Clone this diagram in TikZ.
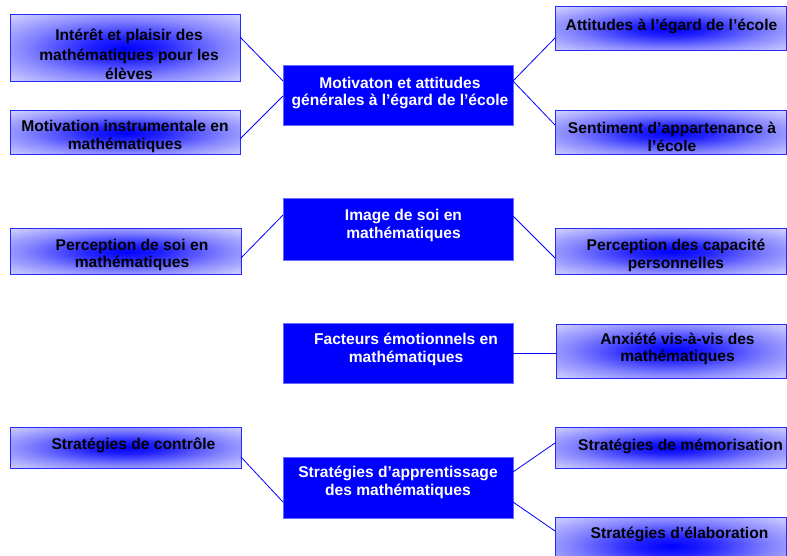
\documentclass[tikz,border=0pt]{standalone}
\usepackage{fontspec}
\setmainfont{Liberation Sans}
\usetikzlibrary{calc}
\definecolor{lav}{RGB}{224,224,255}
\definecolor{edgeblue}{RGB}{40,40,255}
\definecolor{corefill}{RGB}{0,0,255}
\pgfdeclareradialshading{glow}{\pgfpoint{0bp}{0bp}}{color(0bp)=(corefill);color(8bp)=(corefill!85!lav);color(22bp)=(corefill!40!lav);color(38bp)=(lav);color(50bp)=(lav)}
\tikzset{
  sidebox/.style={draw=edgeblue, line width=1pt, shading=glow, inner sep=0pt, outer sep=0pt},
  mainbox/.style={draw=edgeblue!70!white, line width=1pt, fill=corefill, inner sep=0pt, outer sep=0pt},
  sidetext/.style={text=black, align=center, inner sep=0pt, font=\bfseries\fontsize{15.6}{17.5}\selectfont},
  maintext/.style={text=white, align=center, inner sep=0pt, font=\bfseries\fontsize{15.6}{17.5}\selectfont},
  link/.style={draw=corefill, line width=0.8pt}
}
\begin{document}
\begin{tikzpicture}[x=1pt, y=-1pt]
\path[use as bounding box, clip] (0,0) rectangle (787,556);
% left boxes
\node[sidebox, minimum width=230pt, minimum height=67pt] (L1) at (125,48.5) {};
\node[sidebox, minimum width=230pt, minimum height=44pt] (L2) at (125,133) {};
\node[sidebox, minimum width=231pt, minimum height=45pt] (L3) at (125.5,251.5) {};
\node[sidebox, minimum width=231pt, minimum height=41pt] (L4) at (125.5,447.5) {};
% centre boxes
\node[mainbox, minimum width=230pt, minimum height=60pt] (C1) at (398,96) {};
\node[mainbox, minimum width=230pt, minimum height=61pt] (C2) at (398,229.5) {};
\node[mainbox, minimum width=230pt, minimum height=60pt] (C3) at (398,353) {};
\node[mainbox, minimum width=230pt, minimum height=61pt] (C4) at (398,487.5) {};
% right boxes
\node[sidebox, minimum width=231pt, minimum height=44pt] (R1) at (670.5,29) {};
\node[sidebox, minimum width=231pt, minimum height=44pt] (R2) at (670.5,133) {};
\node[sidebox, minimum width=231pt, minimum height=45pt] (R3) at (670.5,251.5) {};
\node[sidebox, minimum width=230pt, minimum height=54pt] (R4) at (671,351) {};
\node[sidebox, minimum width=231pt, minimum height=41pt] (R5) at (670.5,447.5) {};
\node[sidebox, minimum width=231pt, minimum height=58pt] (R6) at (670.5,546) {};
% texts
\node[sidetext, font=\bfseries\fontsize{15.6}{19.5}\selectfont] (tL1) at (129,54.5) {Intérêt et plaisir des\\mathématiques pour les\\élèves};
\node[sidetext] (tL2) at (125,136.5) {Motivation instrumentale en\\mathématiques};
\node[sidetext] (tL3) at (132,255) {Perception de soi en\\mathématiques};
\node[sidetext] (tL4) at (133.5,445) {Stratégies de contrôle};
\node[maintext] (tC1) at (400,93) {Motivaton et attitudes\\générales à l’égard de l’école};
\node[maintext] (tC2) at (403.5,225.5) {Image de soi en\\mathématiques};
\node[maintext] (tC3) at (406,349.5) {Facteurs émotionnels en\\mathématiques};
\node[maintext] (tC4) at (398,482.5) {Stratégies d’apprentissage\\des mathématiques};
\node[sidetext] (tR1) at (671.5,26) {Attitudes à l’égard de l’école};
\node[sidetext] (tR2) at (672,137) {Sentiment d’appartenance à\\l’école};
\node[sidetext] (tR3) at (676,255.5) {Perception des capacité\\personnelles};
\node[sidetext] (tR4) at (677.5,349) {Anxiété vis-à-vis des\\mathématiques};
\node[sidetext] (tR5) at (680.5,446) {Stratégies de mémorisation};
\node[sidetext] (tR6) at (679.5,534) {Stratégies d’élaboration};
% connectors
\draw[link] ([yshift=11.5pt]L1.east) -- ([yshift=15pt]C1.west);
\draw[link] ([yshift=-6pt]L2.east) -- (C1.west);
\draw[link] ([yshift=15pt]C1.east) -- ([yshift=-9pt]R1.west);
\draw[link] ([yshift=15pt]C1.east) -- ([yshift=8pt]R2.west);
\draw[link] ([yshift=-6.5pt]L3.east) -- ([yshift=14.5pt]C2.west);
\draw[link] ([yshift=13.5pt]C2.east) -- ([yshift=-6.5pt]R3.west);
\draw[link] (C3.east) -- (C3.east -| R4.west);
\draw[link] ([yshift=-9.5pt]L4.east) -- ([yshift=-14.5pt]C4.west);
\draw[link] ([yshift=15.5pt]C4.east) -- ([yshift=4.5pt]R5.west);
\draw[link] ([yshift=-14.5pt]C4.east) -- ([yshift=15pt]R6.west);
\end{tikzpicture}
\end{document}
